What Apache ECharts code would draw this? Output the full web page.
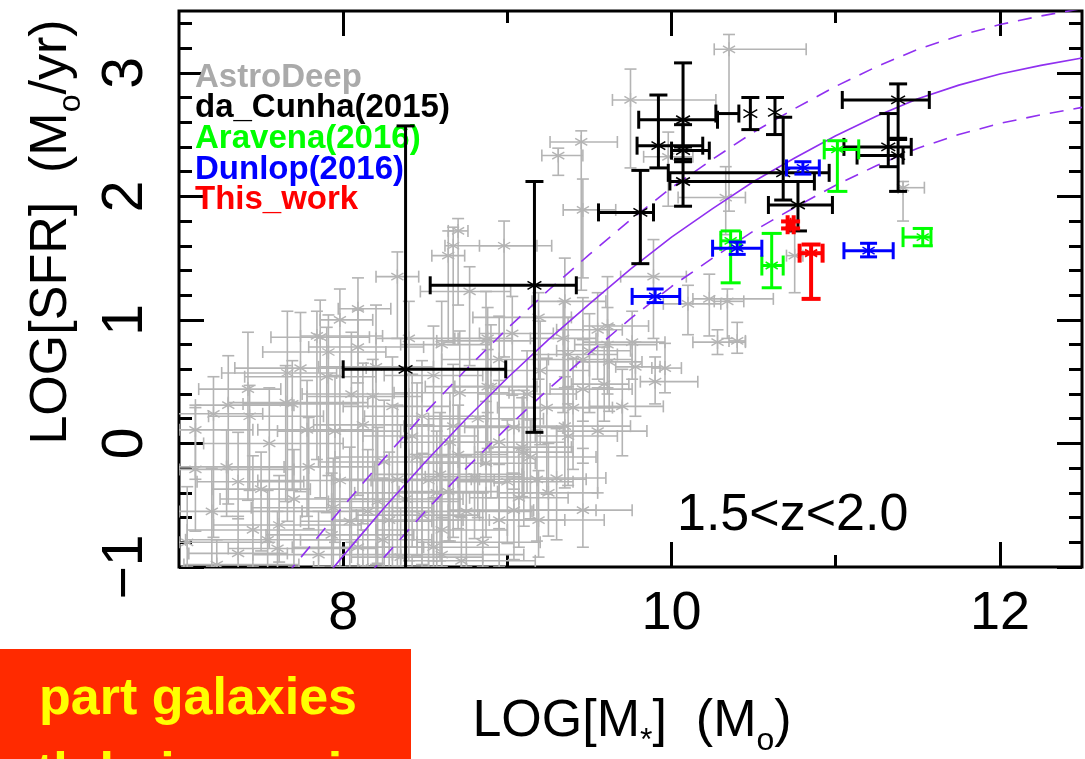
<!DOCTYPE html>
<html>
<head>
<meta charset="utf-8">
<script src="https://cdn.jsdelivr.net/npm/echarts@6.0.0/dist/echarts.min.js"></script>
<style>
  html, body { margin: 0; padding: 0; background: #ffffff; }
  #chart { width: 1085px; height: 759px; }
</style>
</head>
<body>
<div id="chart"></div>
<script>
// ---- axis ticks and labels ----
const xMajorTicks = [8, 10, 12];
const xMinorTicks = [9, 11];
const yMajorTicks = [-1, 0, 1, 2, 3];
const yMinorTicks = [-0.8, -0.6, -0.4, -0.2, 0.2, 0.4, 0.6, 0.8, 1.2, 1.4, 1.6, 1.8,
                     2.2, 2.4, 2.6, 2.8, 3.2, 3.4];

// ---- AstroDeep sample: [logM, logSFR, -dM, +dM, -dSFR, +dSFR] ----
const astroDeep = [
  [10.35, 3.19, 0.09, 0.47, 1.31, 0.12],
  [9.75, 2.78, 0.11, 0.52, 0.55, 0.25],
  [9.45, 2.44, 0.19, 0.22, 1.20, 0.09],
  [9.31, 2.33, 0.10, 0.15, 0.16, 0.06],
  [9.46, 1.89, 0.12, 0.20, 0.55, 0.25],
  [9.98, 2.32, 0.15, 0.15, 0.40, 0.20],
  [10.33, 1.99, 0.29, 0.12, 0.30, 0.25],
  [11.41, 2.07, 0.03, 0.13, 0.27, 0.05],
  [10.75, 1.52, 0.05, 0.05, 0.30, 0.20],
  [9.89, 1.35, 0.20, 0.20, 0.50, 0.30],
  [10.10, 1.13, 0.15, 0.20, 0.25, 0.15],
  [10.23, 1.17, 0.10, 0.39, 0.30, 0.20],
  [10.34, 1.15, 0.08, 0.10, 0.30, 0.10],
  [9.76, 0.82, 0.30, 0.20, 0.30, 0.25],
  [9.78, 0.62, 0.12, 0.15, 0.40, 0.20],
  [9.96, 0.61, 0.08, 0.10, 0.20, 0.20],
  [9.90, 0.50, 0.09, 0.26, 0.18, 0.20],
  [10.28, 0.82, 0.15, 0.17, 0.10, 0.10],
  [10.40, 0.83, 0.05, 0.05, 0.10, 0.15],
  [9.59, 0.48, 0.20, 0.15, 0.30, 0.30],
  [8.70, 1.72, 0.06, 0.06, 0.60, 0.10],
  [8.67, 1.60, 0.05, 0.60, 0.80, 0.15],
  [8.98, 1.60, 0.15, 0.20, 0.90, 0.20],
  [8.64, 1.52, 0.10, 0.10, 0.70, 0.20],
  [8.33, 1.35, 0.13, 0.13, 0.50, 0.20],
  [8.09, 1.09, 0.12, 0.20, 0.60, 0.25],
  [7.98, 1.00, 0.12, 0.20, 0.90, 0.25],
  [7.84, 0.87, 0.10, 0.40, 1.00, 0.20],
  [8.77, 1.23, 0.30, 0.25, 0.60, 0.20],
  [9.35, 1.15, 0.20, 0.25, 0.70, 0.35],
  [9.19, 1.02, 0.40, 0.20, 0.50, 0.20],
  [9.03, 0.89, 0.20, 0.25, 0.50, 0.30],
  [8.88, 0.85, 0.20, 0.15, 0.60, 0.25],
  [9.34, 0.85, 0.20, 0.20, 0.60, 0.30],
  [9.55, 0.92, 0.25, 0.15, 0.40, 0.30],
  [9.61, 0.95, 0.15, 0.25, 0.50, 0.40],
  [9.61, 0.80, 0.20, 0.30, 0.40, 0.30],
  [9.62, 0.66, 0.20, 0.20, 0.40, 0.30],
  [9.37, 0.72, 0.20, 0.30, 0.40, 0.30],
  [7.10, 0.11, 0.10, 0.35, 0.40, 0.20],
  [7.21, 0.24, 0.25, 0.30, 1.00, 0.30],
  [7.30, 0.31, 0.20, 0.40, 0.80, 0.40],
  [7.42, 0.44, 0.30, 0.20, 0.90, 0.46],
  [7.43, 0.22, 0.25, 0.45, 0.60, 0.25],
  [7.10, -0.21, 0.10, 0.60, 0.50, 0.50],
  [7.29, -0.19, 0.30, 0.35, 0.40, 0.30],
  [7.36, -0.31, 0.25, 0.40, 0.30, 0.40],
  [7.50, -0.37, 0.30, 0.30, 0.50, 0.30],
  [7.45, -0.70, 0.40, 0.50, 0.30, 0.60],
  [7.54, -0.78, 0.50, 0.40, 0.30, 0.40],
  [7.60, -0.85, 0.30, 0.60, 0.20, 0.30],
  [7.36, -0.89, 0.30, 0.30, 0.20, 0.30],
  [7.23, -0.98, 0.20, 0.50, 0.10, 0.20],
  [7.61, -0.66, 0.40, 0.50, 0.30, 0.40],
  [7.66, 0.57, 0.40, 0.30, 1.20, 0.50],
  [7.74, 0.61, 0.40, 0.40, 1.00, 0.45],
  [7.65, 0.33, 0.35, 0.50, 0.80, 0.30],
  [7.69, 0.32, 0.30, 0.40, 0.70, 0.35],
  [7.78, 0.11, 0.30, 0.40, 0.70, 0.40],
  [7.90, 0.54, 0.50, 0.30, 1.10, 0.40],
  [7.86, 0.86, 0.30, 0.30, 1.30, 0.30],
  [8.09, 0.78, 0.30, 0.40, 1.20, 0.30],
  [7.91, 0.74, 0.40, 0.35, 1.00, 0.30],
  [8.12, 0.15, 0.30, 0.40, 0.80, 0.50],
  [8.18, 0.38, 0.40, 0.30, 0.90, 0.30],
  [7.79, -0.19, 0.50, 0.40, 0.50, 0.40],
  [7.94, -0.52, 0.50, 0.60, 0.50, 0.40],
  [7.93, -0.74, 0.40, 0.50, 0.30, 0.50],
  [8.04, -0.63, 0.30, 0.50, 0.40, 0.60],
  [8.09, -0.84, 0.40, 0.40, 0.20, 0.30],
  [8.12, -1.00, 0.30, 0.40, 0.10, 0.30],
  [8.21, -0.47, 0.30, 0.50, 0.50, 0.60],
  [8.24, -0.78, 0.50, 0.30, 0.30, 0.50],
  [8.33, -0.29, 0.40, 0.50, 0.70, 0.60],
  [8.35, -0.92, 0.30, 0.50, 0.10, 0.40],
  [8.42, 0.06, 0.30, 0.40, 0.90, 0.50],
  [8.45, -0.11, 0.50, 0.40, 0.80, 0.60],
  [8.59, -0.25, 0.40, 0.50, 0.70, 0.50],
  [8.57, -0.40, 0.50, 0.30, 0.60, 0.50],
  [8.60, -0.70, 0.40, 0.40, 0.30, 0.60],
  [8.55, -0.84, 0.50, 0.40, 0.20, 0.40],
  [8.60, -0.90, 0.30, 0.50, 0.10, 0.30],
  [8.65, 0.01, 0.30, 0.30, 0.80, 0.40],
  [8.71, 0.41, 0.40, 0.30, 1.00, 0.50],
  [8.67, 0.14, 0.30, 0.40, 0.90, 0.50],
  [8.82, 0.20, 0.30, 0.40, 0.80, 0.40],
  [8.87, -0.16, 0.40, 0.30, 0.60, 0.50],
  [8.87, 0.83, 0.30, 0.30, 1.00, 0.40],
  [8.90, 0.46, 0.40, 0.30, 0.90, 0.50],
  [8.88, 0.46, 0.20, 0.30, 0.50, 0.30],
  [8.95, 0.01, 0.30, 0.40, 0.70, 0.50],
  [9.00, -0.31, 0.30, 0.40, 0.50, 0.50],
  [9.07, -0.44, 0.30, 0.30, 0.40, 0.40],
  [9.04, -0.54, 0.40, 0.50, 0.40, 0.30],
  [9.04, 0.13, 0.30, 0.30, 0.50, 0.30],
  [9.09, -0.03, 0.20, 0.30, 0.40, 0.40],
  [9.10, -0.07, 0.30, 0.30, 0.60, 0.50],
  [9.14, -0.11, 0.30, 0.40, 0.50, 0.30],
  [9.18, -0.29, 0.40, 0.30, 0.50, 0.40],
  [9.20, 0.59, 0.30, 0.30, 0.60, 0.40],
  [9.19, -0.62, 0.30, 0.40, 0.30, 0.40],
  [9.24, 0.29, 0.30, 0.40, 0.70, 0.40],
  [9.30, -0.28, 0.30, 0.30, 0.50, 0.40],
  [9.35, 0.14, 0.20, 0.40, 0.50, 0.40],
  [9.37, 0.06, 0.20, 0.30, 0.40, 0.40],
  [9.40, 0.29, 0.30, 0.30, 0.50, 0.40],
  [9.46, -0.54, 0.30, 0.30, 0.30, 0.50],
  [9.46, 0.44, 0.20, 0.30, 0.60, 0.40],
  [9.46, 0.68, 0.30, 0.30, 0.50, 0.50],
  [8.70, -0.09, 0.30, 0.30, 0.60, 0.40],
  [8.80, -0.27, 0.30, 0.30, 0.50, 0.40],
  [8.64, -0.39, 0.30, 0.30, 0.40, 0.40],
  [8.15, -0.55, 0.40, 0.40, 0.45, 0.50],
  [8.28, -0.62, 0.35, 0.45, 0.40, 0.55],
  [8.48, -0.58, 0.40, 0.35, 0.45, 0.50],
  [8.52, -0.30, 0.35, 0.40, 0.70, 0.45],
  [8.38, -0.45, 0.45, 0.35, 0.55, 0.50],
  [8.25, -0.15, 0.40, 0.45, 0.85, 0.50],
  [8.48, 0.22, 0.35, 0.40, 1.20, 0.45],
  [8.30, 0.30, 0.30, 0.35, 1.30, 0.40],
  [8.55, 0.55, 0.30, 0.30, 1.50, 0.40],
  [8.20, 0.62, 0.35, 0.35, 1.60, 0.50],
  [8.40, 0.85, 0.20, 0.30, 1.80, 0.30],
  [8.75, -0.55, 0.45, 0.40, 0.45, 0.45],
  [8.85, -0.80, 0.40, 0.35, 0.20, 0.40],
  [8.95, -0.62, 0.35, 0.40, 0.38, 0.45],
  [8.72, -0.95, 0.30, 0.45, 0.10, 0.35],
  [7.98, -0.30, 0.50, 0.40, 0.70, 0.40],
  [7.85, -0.90, 0.40, 0.50, 0.10, 0.35],
  [7.70, -0.45, 0.45, 0.45, 0.55, 0.40],
  [7.20, -0.55, 0.20, 0.55, 0.45, 0.35],
  [7.05, -0.80, 0.05, 0.50, 0.20, 0.45],
  [9.25, -0.40, 0.30, 0.30, 0.35, 0.40],
  [9.55, 0.10, 0.25, 0.30, 0.50, 0.35],
  [9.70, 0.30, 0.20, 0.25, 0.40, 0.30],
  [9.50, 0.75, 0.20, 0.25, 0.50, 0.30],
  [8.95, 0.68, 0.35, 0.30, 1.00, 0.35],
  [9.12, 0.40, 0.30, 0.30, 0.80, 0.35],
  [8.60, 0.80, 0.25, 0.30, 1.40, 0.35],
  [8.05, 0.40, 0.30, 0.35, 1.20, 0.50],
  [7.55, 0.00, 0.40, 0.45, 0.80, 0.45],
  [7.95, 0.10, 0.35, 0.40, 0.90, 0.45]
];

// ---- literature and new measurements: [logM, logSFR, Mlow, Mhigh, SFRlow, SFRhigh] ----
const daCunha2015 = [
  [8.38, 0.60, 8.00, 8.99, -1.30, 2.57],
  [9.165, 1.28, 8.53, 9.42, 0.09, 2.12],
  [9.81, 1.87, 9.555, 9.89, 1.455, 2.21],
  [9.92, 2.41, 9.79, 10.19, 2.23, 2.82],
  [10.07, 2.62, 9.80, 10.28, 2.40, 3.08],
  [10.07, 2.37, 10.00, 10.23, 2.28, 2.58],
  [10.07, 2.12, 9.99, 10.87, 1.92, 2.30],
  [10.68, 2.19, 9.98, 10.96, 1.97, 2.64],
  [10.48, 2.67, 10.27, 10.41, 2.54, 2.80],
  [10.63, 2.68, 10.63, 10.63, 2.50, 2.80],
  [10.77, 1.93, 10.59, 10.98, 1.72, 2.12],
  [11.38, 2.78, 11.04, 11.57, 2.47, 2.91],
  [11.32, 2.40, 11.05, 11.46, 2.24, 2.67],
  [11.38, 2.33, 11.13, 11.41, 2.04, 2.46]
];
const aravena2016 = [
  [11.01, 2.38, 10.93, 11.14, 2.04, 2.45],
  [10.36, 1.64, 10.30, 10.42, 1.30, 1.72],
  [10.61, 1.44, 10.55, 10.68, 1.26, 1.70],
  [11.53, 1.67, 11.41, 11.58, 1.60, 1.74]
];
const dunlop2016 = [
  [10.80, 2.23, 10.70, 10.90, 2.18, 2.28],
  [10.40, 1.58, 10.25, 10.55, 1.53, 1.63],
  [11.20, 1.56, 11.05, 11.35, 1.51, 1.62],
  [9.90, 1.19, 9.76, 10.05, 1.14, 1.25]
];
const thisWork = [
  [10.725, 1.77, 10.707, 10.744, 1.74, 1.797],
  [10.85, 1.54, 10.78, 10.92, 1.17, 1.61]
];

// ---- main-sequence relation and its scatter envelope: [logM, logSFR] ----
const msCentral = [[7.90, -1.07], [8.00, -0.91], [8.25, -0.52], [8.50, -0.15], [8.75, 0.20],
  [9.00, 0.53], [9.25, 0.84], [9.50, 1.13], [9.75, 1.41], [10.00, 1.67], [10.25, 1.90],
  [10.50, 2.12], [10.75, 2.31], [11.00, 2.49], [11.25, 2.65], [11.50, 2.79], [11.75, 2.90],
  [12.00, 2.99], [12.25, 3.06], [12.50, 3.12]];
const msUpper = [[7.65, -1.07], [7.75, -0.91], [8.00, -0.51], [8.25, -0.12], [8.50, 0.25],
  [8.75, 0.60], [9.00, 0.93], [9.25, 1.24], [9.50, 1.53], [9.75, 1.81], [10.00, 2.07],
  [10.25, 2.30], [10.50, 2.52], [10.75, 2.71], [11.00, 2.89], [11.25, 3.05], [11.50, 3.19],
  [11.75, 3.30], [12.00, 3.39], [12.25, 3.46], [12.50, 3.52]];
const msLower = [[8.15, -1.07], [8.25, -0.92], [8.50, -0.55], [8.75, -0.20], [9.00, 0.13],
  [9.25, 0.44], [9.50, 0.73], [9.75, 1.01], [10.00, 1.27], [10.25, 1.50], [10.50, 1.72],
  [10.75, 1.91], [11.00, 2.09], [11.25, 2.25], [11.50, 2.39], [11.75, 2.50], [12.00, 2.59],
  [12.25, 2.66], [12.50, 2.72]];

const FONT = "'Liberation Sans', Arial, Helvetica, sans-serif";
const MS_COLOR = '#9030f0';

// offsets -> absolute bounds
const astroDeepRows = astroDeep.map(([m, s, a, b, c, d]) => [m, s, m - a, m + b, s - c, s + d]);

// error-bar + asterisk renderer
function errorBarRenderer(color, width, cap, starR, starW) {
  return function (params, api) {
    const m = api.value(0), s = api.value(1);
    const xl = api.value(2), xh = api.value(3), yl = api.value(4), yh = api.value(5);
    const c = api.coord([m, s]);
    const seg = (x1, y1, x2, y2, w) => ({
      type: 'line',
      shape: { x1: x1, y1: y1, x2: x2, y2: y2 },
      style: { stroke: color, lineWidth: w, lineCap: 'butt' }
    });
    const kids = [];
    if (xh > xl) {
      const pl = api.coord([xl, s]), ph = api.coord([xh, s]);
      kids.push(seg(pl[0], pl[1], ph[0], ph[1], width));
      kids.push(seg(pl[0], pl[1] - cap / 2, pl[0], pl[1] + cap / 2, width));
      kids.push(seg(ph[0], ph[1] - cap / 2, ph[0], ph[1] + cap / 2, width));
    }
    if (yh > yl) {
      const pl = api.coord([m, yl]), ph = api.coord([m, yh]);
      kids.push(seg(pl[0], pl[1], ph[0], ph[1], width));
      kids.push(seg(pl[0] - cap / 2, pl[1], pl[0] + cap / 2, pl[1], width));
      kids.push(seg(ph[0] - cap / 2, ph[1], ph[0] + cap / 2, ph[1], width));
    }
    [90, 30, 150].forEach(function (deg) {
      const r = deg * Math.PI / 180;
      const dx = starR * Math.cos(r), dy = starR * Math.sin(r);
      kids.push(seg(c[0] - dx, c[1] - dy, c[0] + dx, c[1] + dy, starW));
    });
    return { type: 'group', children: kids };
  };
}

function errorSeries(name, rows, color, width, cap, starR, starW, z) {
  return {
    name: name,
    type: 'custom',
    xAxisIndex: 0,
    yAxisIndex: 0,
    clip: true,
    z: z,
    itemStyle: { color: color },
    renderItem: errorBarRenderer(color, width, cap, starR, starW),
    encode: { x: [0, 2, 3], y: [1, 4, 5] },
    data: rows
  };
}

function lineSeries(rows, dashed) {
  return {
    type: 'line',
    xAxisIndex: 0,
    yAxisIndex: 0,
    data: rows,
    smooth: false,
    showSymbol: false,
    silent: true,
    z: 3,
    lineStyle: { color: MS_COLOR, width: 1.6, type: dashed ? [14, 10] : 'solid' }
  };
}

function tickAxis(pos, values, len, labels) {
  const isX = pos === 'bottom' || pos === 'top';
  const ax = {
    type: 'value',
    position: pos,
    min: isX ? 7 : -1,
    max: isX ? 12.5 : 3.5,
    axisLine: { show: false, onZero: false },
    splitLine: { show: false },
    axisTick: {
      show: true, inside: true, length: len, customValues: values,
      lineStyle: { color: '#000', width: 3 }
    },
    axisLabel: { show: false }
  };
  if (labels) {
    ax.axisLabel = {
      show: true,
      customValues: values,
      color: '#000',
      fontFamily: FONT,
      fontSize: isX ? 54 : 57,
      margin: isX ? 20 : 24,
      rotate: isX ? 0 : 90,
      formatter: function (v) { return String(v).replace('-', '\u2212'); }
    };
  }
  return ax;
}

const chart = echarts.init(document.getElementById('chart'), null, { renderer: 'canvas' });

const subRich = {
  a: { fontFamily: FONT, fontSize: 52, lineHeight: 70, color: '#000' },
  s: { fontFamily: FONT, fontSize: 32, lineHeight: 22, verticalAlign: 'bottom', color: '#000' }
};

chart.setOption({
  animation: false,
  backgroundColor: '#ffffff',
  grid: {
    left: 179, right: 3, top: 11, bottom: 192,
    show: true, borderColor: '#000', borderWidth: 3, backgroundColor: 'transparent'
  },
  xAxis: [
    tickAxis('bottom', xMajorTicks, 25, true),
    tickAxis('bottom', xMinorTicks, 12, false),
    tickAxis('top', xMajorTicks, 25, false),
    tickAxis('top', xMinorTicks, 12, false)
  ],
  yAxis: [
    tickAxis('left', yMajorTicks, 25, true),
    tickAxis('left', yMinorTicks, 13, false),
    tickAxis('right', yMajorTicks, 25, false),
    tickAxis('right', yMinorTicks, 13, false)
  ],
  legend: {
    orient: 'vertical',
    left: 190,
    top: 61,
    padding: 0,
    icon: 'none',
    itemWidth: 0,
    itemHeight: 0,
    itemGap: -2.3,
    selectedMode: false,
    textStyle: { fontFamily: FONT, fontSize: 33, fontWeight: 'bold', lineHeight: 30 },
    data: [
      { name: 'AstroDeep', textStyle: { color: '#aaaaaa' } },
      { name: 'da_Cunha(2015)', textStyle: { color: '#000000' } },
      { name: 'Aravena(2016)', textStyle: { color: '#00ff00' } },
      { name: 'Dunlop(2016)', textStyle: { color: '#0000ff' } },
      { name: 'This_work', textStyle: { color: '#ff0000' } }
    ]
  },
  series: [
    errorSeries('AstroDeep', astroDeepRows, '#b4b4b4', 1.6, 12, 7, 1.4, 2),
    lineSeries(msCentral, false),
    lineSeries(msUpper, true),
    lineSeries(msLower, true),
    errorSeries('da_Cunha(2015)', daCunha2015, '#000000', 3, 18, 8, 1.5, 4),
    errorSeries('Aravena(2016)', aravena2016, '#00ff00', 3, 20, 7, 1.5, 5),
    errorSeries('Dunlop(2016)', dunlop2016, '#0000ff', 3, 17, 7, 1.5, 6),
    errorSeries('This_work', thisWork, '#ff0000', 4, 19, 7, 2, 7)
  ],
  graphic: [
    {
      type: 'text', x: 52, y: 232, rotation: Math.PI / 2,
      style: { text: '{a|LOG[SFR]  (M}{s|o}{a|/yr)}', rich: subRich, align: 'center', verticalAlign: 'middle' }
    },
    {
      type: 'text', x: 632, y: 722,
      style: { text: '{a|LOG[M}{s|*}{a|]  (M}{s|o}{a|)}', rich: subRich, align: 'center', verticalAlign: 'middle' }
    },
    {
      type: 'text', x: 677, y: 516,
      style: { text: '1.5<z<2.0', font: '52px ' + FONT, fill: '#000', align: 'left', verticalAlign: 'middle' }
    },
    {
      type: 'rect', shape: { x: 0, y: 649, width: 411, height: 110 },
      style: { fill: '#ff2a00' }
    },
    {
      type: 'text', x: 357, y: 700,
      style: { text: 'part galaxies', font: 'bold 52px ' + FONT, fill: '#ffff00', align: 'right', verticalAlign: 'middle' }
    },
    {
      type: 'text', x: 374, y: 775,
      style: { text: 'both being main', font: 'bold 52px ' + FONT, fill: '#ffff00', align: 'right', verticalAlign: 'middle' }
    }
  ]
});
</script>
</body>
</html>
